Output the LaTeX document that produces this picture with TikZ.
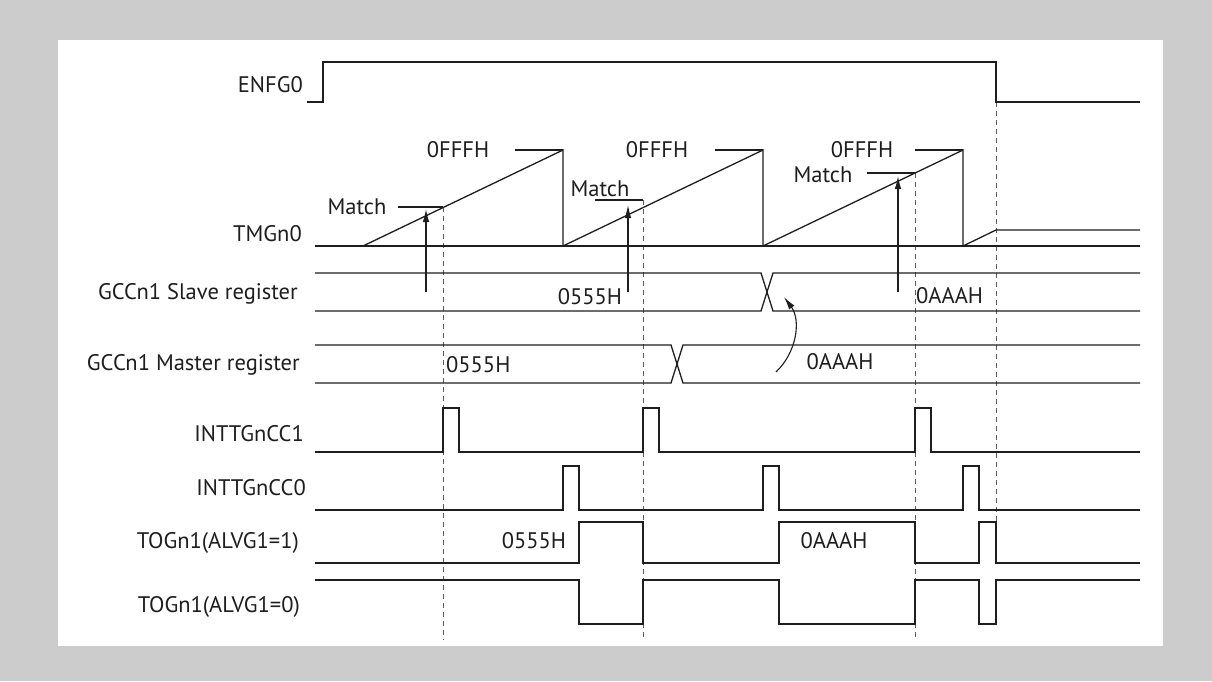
\documentclass[tikz,border=0pt]{standalone}
\usepackage{fontspec}
\setmainfont{PT Sans}
\usetikzlibrary{arrows.meta}
\definecolor{bggray}{HTML}{CCCCCC}
\definecolor{ink}{HTML}{1E1E1E}
\begin{document}
\begin{tikzpicture}[x=1pt,y=-1pt,
  sig/.style={draw=ink,line width=1.3pt,line join=miter},
  guide/.style={draw=black!65,line width=1pt,dash pattern=on 5pt off 4pt},
  lbl/.style={anchor=east,inner sep=0pt,text=ink,font=\fontsize{22.5}{27}\selectfont},
  val/.style={inner sep=0pt,text=ink,font=\fontsize{22.5}{27}\selectfont},
  matcharrow/.style={draw=ink,line width=1.1pt,-{Latex[length=13pt,width=6.5pt]}}]
\useasboundingbox (0,0) rectangle (1212,681);
\fill[bggray] (0,0) rectangle (1212,681);
\fill[white] (58,40) rectangle (1163,646);

% labels
\node[lbl] (lENFG) at (303,85) {ENFG0};
\node[lbl] (lTMG) at (302,234) {TMGn0};
\node[lbl] (lSlave) at (298,294) {GCCn1 Slave register};
\node[lbl] (lMaster) at (300,365) {GCCn1 Master register};
\node[lbl] (lCC1) at (304,434) {INTTGnCC1};
\node[lbl] (lCC0) at (306,488) {INTTGnCC0};
\node[lbl] (lTOG1) at (299,543) {TOGn1(ALVG1=1)};
\node[lbl] (lTOG0) at (300,607) {TOGn1(ALVG1=0)};

% dashed guides
\draw[guide] (443,207) -- (443,640);
\draw[guide] (643,200) -- (643,640);
\draw[guide] (915,173) -- (915,640);
\draw[guide] (996,102) -- (996,522);

% ENFG0
\draw[sig] (307,102) -- (323,102) -- (323,62) -- (996,62) -- (996,102) -- (1140,102);

% TMGn0
\draw[sig] (315,246) -- (1140,246);
\draw[sig] (363,246) -- (563,150) -- (563,246) -- (763,150) -- (763,246) -- (963,150) -- (963,246) -- (996,230) -- (1140,230);
\draw[sig] (515,150) -- (563,150);
\draw[sig] (715,150) -- (763,150);
\draw[sig] (915,150) -- (963,150);
\node[val] (ff1) at (458,150) {0FFFH};
\node[val] (ff2) at (657,150) {0FFFH};
\node[val] (ff3) at (862,150) {0FFFH};
\node[val] (m1) at (357,207) {Match};
\node[val] (m2) at (600,189) {Match};
\node[val] (m3) at (823,175) {Match};
\draw[sig] (398,207) -- (443,207);
\draw[sig] (595,200) -- (643,200);
\draw[sig] (867,173) -- (915,173);

% match arrows
\coordinate (a1b) at (426,292); \coordinate (a1t) at (426,209);
\coordinate (a2b) at (628,292); \coordinate (a2t) at (628,205);
\coordinate (a3b) at (898,292); \coordinate (a3t) at (898,176);
\draw[matcharrow] (a1b) -- (a1t);
\draw[matcharrow] (a2b) -- (a2t);
\draw[matcharrow] (a3b) -- (a3t);

% Slave register
\draw[sig] (315,273) -- (761,273) -- (773,311) -- (1140,311);
\draw[sig] (315,311) -- (761,311) -- (773,273) -- (1140,273);
\node[val] (s555) at (590,297) {0555H};
\node[val,anchor=west] (sAAA) at (916,296) {0AAAH};

% Master register
\draw[sig] (315,345) -- (671,345) -- (683,383) -- (1140,383);
\draw[sig] (315,383) -- (671,383) -- (683,345) -- (1140,345);
\node[val,anchor=west] (m555) at (446,365) {0555H};
\node[val] (mAAA) at (840,362) {0AAAH};

% curved arrow master -> slave
\coordinate (cs) at (776,372);
\coordinate (ce) at (784,297);
\draw[draw=ink,line width=1.1pt,-{Latex[length=13pt,width=6.5pt]}] (cs) .. controls (797,352) and (801,320) .. (ce);

% INTTGnCC1
\draw[sig] (315,452) -- (443,452) -- (443,408) -- (459,408) -- (459,452) -- (643,452) -- (643,408) -- (659,408) -- (659,452) -- (915,452) -- (915,408) -- (931,408) -- (931,452) -- (1140,452);
% INTTGnCC0
\draw[sig] (315,510) -- (563,510) -- (563,466) -- (579,466) -- (579,510) -- (763,510) -- (763,466) -- (779,466) -- (779,510) -- (963,510) -- (963,466) -- (979,466) -- (979,510) -- (1140,510);
% TOGn1 ALVG1=1
\draw[sig] (315,563) -- (579,563) -- (579,522) -- (643,522) -- (643,563) -- (779,563) -- (779,522) -- (915,522) -- (915,563) -- (979,563) -- (979,522) -- (996,522) -- (996,563) -- (1140,563);
\node[val] (t555) at (534,541) {0555H};
\node[val] (tAAA) at (834,541) {0AAAH};
% TOGn1 ALVG1=0
\draw[sig] (315,580) -- (579,580) -- (579,624) -- (643,624) -- (643,580) -- (779,580) -- (779,624) -- (915,624) -- (915,580) -- (979,580) -- (979,624) -- (996,624) -- (996,580) -- (1140,580);
\end{tikzpicture}
\end{document}
